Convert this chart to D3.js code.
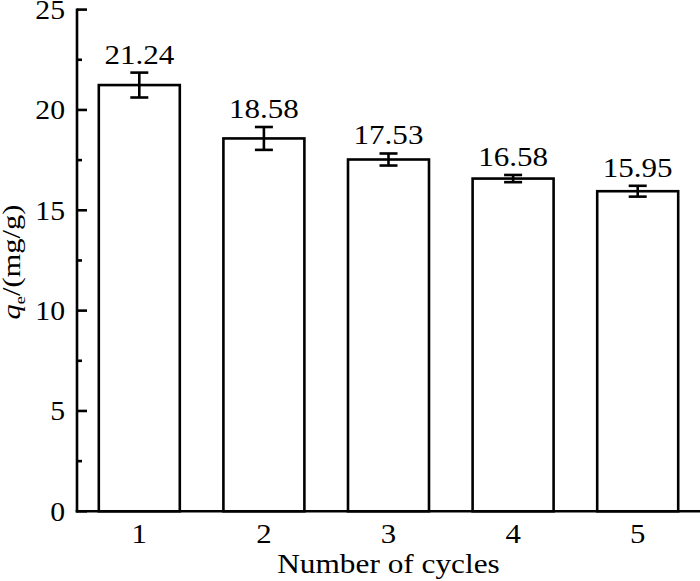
<!DOCTYPE html>
<html>
<head>
<meta charset="utf-8">
<script src="https://cdn.jsdelivr.net/npm/d3@7"></script>
<style>
  body { margin: 0; background: #fff; }
  text { font-family: "Liberation Serif", "Times New Roman", serif; fill: #000; }
</style>
</head>
<body>
<script>
// data
const cycles = ["1", "2", "3", "4", "5"];
const qe = [21.24, 18.58, 17.53, 16.58, 15.95];
const qeErr = [0.62, 0.57, 0.30, 0.18, 0.27];
const yTicks = [0, 5, 10, 15, 20, 25];

const width = 700, height = 581;
const margin = { left: 77, right: 0, top: 9.6, bottom: 69.7 };
const sx = 1.15; // glyphs in the figure are wider than Times

const svg = d3.select("body").append("svg")
    .attr("width", width).attr("height", height);

const x = d3.scaleBand()
    .domain(cycles)
    .range([margin.left, width - margin.right])
    .paddingInner(0.35)
    .paddingOuter(0.175);

const y = d3.scaleLinear()
    .domain([0, 25])
    .range([height - margin.bottom, margin.top]);

function label(g, tx, ty, str, size, anchor, k) {
    return g.append("text")
        .attr("transform", "translate(" + tx + "," + ty + ") scale(" + (k || sx) + ",1)")
        .attr("text-anchor", anchor)
        .style("font-size", size + "px")
        .text(str);
}

// bars
svg.selectAll("rect.bar")
    .data(qe)
    .enter().append("rect")
    .attr("class", "bar")
    .attr("x", (d, i) => x(cycles[i]))
    .attr("y", d => y(d))
    .attr("width", x.bandwidth())
    .attr("height", d => y(0) - y(d))
    .attr("fill", "#fff")
    .attr("stroke", "#000")
    .attr("stroke-width", 2.6);

// error bars
const capW = 9;
const eb = svg.append("g").attr("stroke", "#000").attr("stroke-width", 2.6);
qe.forEach(function (d, i) {
    const cx = x(cycles[i]) + x.bandwidth() / 2;
    const lo = y(d - qeErr[i]), hi = y(d + qeErr[i]);
    eb.append("line").attr("x1", cx).attr("x2", cx).attr("y1", lo).attr("y2", hi);
    eb.append("line").attr("x1", cx - capW).attr("x2", cx + capW).attr("y1", hi).attr("y2", hi);
    eb.append("line").attr("x1", cx - capW).attr("x2", cx + capW).attr("y1", lo).attr("y2", lo);
    label(svg, cx, hi - 9, d.toFixed(2), 27, "middle");
});

// y axis
const ya = svg.append("g").attr("stroke", "#000").attr("stroke-width", 2.6);
ya.append("line")
    .attr("x1", margin.left).attr("x2", margin.left)
    .attr("y1", y(25) - 1).attr("y2", y(0) + 1.3);
d3.range(0, 25.01, 2.5).forEach(function (t) {
    const major = t % 5 === 0;
    ya.append("line")
        .attr("x1", margin.left).attr("x2", margin.left + (major ? 10 : 5))
        .attr("y1", y(t)).attr("y2", y(t));
});
yTicks.forEach(function (t) {
    label(svg, 65, y(t) + 9.5, String(t), 27, "end", 1.1);
});

// x axis
svg.append("line")
    .attr("x1", margin.left - 1.3).attr("x2", width)
    .attr("y1", y(0)).attr("y2", y(0))
    .attr("stroke", "#000").attr("stroke-width", 2.6);
cycles.forEach(function (c) {
    label(svg, x(c) + x.bandwidth() / 2, y(0) + 32, c, 28, "middle", 1.1);
});

// axis titles
label(svg, (margin.left + width) / 2, 573, "Number of cycles", 27, "middle", 1.16);

const yt = svg.append("text")
    .attr("transform", "translate(20,262) rotate(-90) scale(1.22,1)")
    .attr("text-anchor", "middle")
    .style("font-size", "25px");
yt.append("tspan").style("font-style", "italic").text("q");
yt.append("tspan").attr("dy", 5).style("font-size", "15px").text("e");
yt.append("tspan").attr("dy", -5).text("/(mg/g)");
</script>
</body>
</html>
